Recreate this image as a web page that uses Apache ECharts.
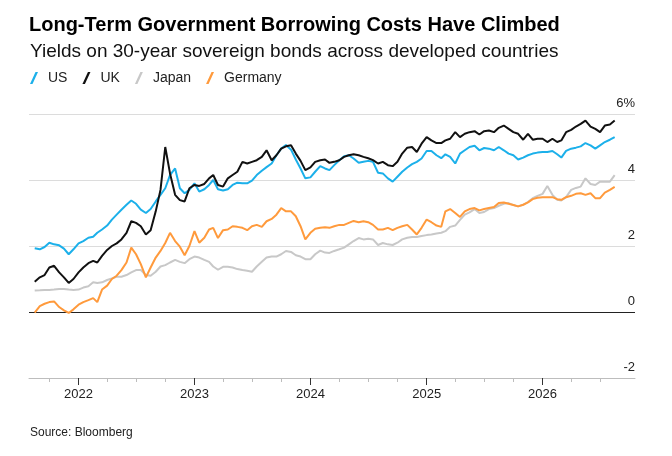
<!DOCTYPE html>
<html>
<head>
<meta charset="utf-8">
<script src="https://cdn.jsdelivr.net/npm/echarts@6/dist/echarts.min.js"></script>
<style>
  html, body { margin: 0; padding: 0; background: #fff; }
  #chart { width: 672px; height: 456px; }
</style>
</head>
<body>
<div id="chart"></div>
<script>
// 数据：每半月一个点，2021-08-16 到 2026-08-16
const seriesNames = ['US', 'UK', 'Japan', 'Germany'];
const seriesColors = ['#1cb0ea', '#111111', '#c8c8c8', '#ff9a3c'];

const us = [
  1.93, 1.90, 1.97, 2.10, 2.05, 2.02, 1.92, 1.75, 1.90, 2.08,
  2.15, 2.25, 2.28, 2.40, 2.50, 2.62, 2.80, 2.95, 3.10, 3.25,
  3.38, 3.28, 3.10, 3.00, 3.12, 3.35, 3.55, 3.75, 4.15, 4.35,
  3.75, 3.60, 3.70, 3.90, 3.65, 3.72, 3.85, 4.00, 3.72, 3.68,
  3.72, 3.85, 3.92, 3.90, 3.90, 3.98, 4.15, 4.28, 4.39, 4.50,
  4.75, 4.95, 5.06, 4.92, 4.62, 4.35, 4.05, 4.08, 4.25, 4.42,
  4.35, 4.30, 4.45, 4.60, 4.72, 4.75, 4.65, 4.52, 4.55, 4.58,
  4.55, 4.22, 4.20, 4.05, 3.95, 4.10, 4.25, 4.38, 4.48, 4.55,
  4.65, 4.88, 4.88, 4.75, 4.66, 4.78, 4.70, 4.50, 4.80, 4.90,
  5.00, 5.04, 4.90, 4.97, 4.95, 4.90, 5.00, 4.90, 4.80, 4.75,
  4.62, 4.68, 4.75, 4.80, 4.83, 4.85, 4.85, 4.88, 4.78, 4.68,
  4.88, 4.95, 4.98, 5.02, 5.12, 5.05, 4.95, 5.05, 5.15, 5.22,
  5.30
];

const uk = [
  0.92, 1.05, 1.12, 1.35, 1.40, 1.20, 1.05, 0.88, 1.00, 1.20,
  1.35, 1.48, 1.55, 1.50, 1.70, 1.88, 2.00, 2.08, 2.20, 2.40,
  2.75, 2.70, 2.60, 2.35, 2.48, 3.05, 3.70, 5.00, 4.20, 3.55,
  3.39, 3.35, 3.75, 3.85, 3.82, 3.88, 4.05, 4.15, 3.85, 3.80,
  4.05, 4.15, 4.25, 4.55, 4.50, 4.55, 4.60, 4.70, 4.90, 4.60,
  4.75, 4.95, 5.02, 5.05, 4.80, 4.58, 4.30, 4.38, 4.55, 4.60,
  4.62, 4.52, 4.55, 4.60, 4.70, 4.75, 4.78, 4.75, 4.70, 4.66,
  4.60, 4.50, 4.55, 4.45, 4.42, 4.55, 4.80, 4.98, 5.00, 4.85,
  5.10, 5.30, 5.20, 5.12, 5.12, 5.20, 5.25, 5.45, 5.30, 5.40,
  5.45, 5.48, 5.38, 5.48, 5.50, 5.45, 5.58, 5.65, 5.55, 5.45,
  5.40, 5.22, 5.40, 5.22, 5.25, 5.25, 5.15, 5.25, 5.15, 5.20,
  5.45, 5.52, 5.62, 5.70, 5.80, 5.62, 5.55, 5.45, 5.65, 5.68,
  5.80
];

const japan = [
  0.65, 0.66, 0.67, 0.67, 0.68, 0.70, 0.70, 0.68, 0.67, 0.68,
  0.74, 0.78, 0.90, 0.88, 0.90, 0.97, 1.02, 1.07, 1.07, 1.12,
  1.20, 1.27, 1.27, 1.12, 1.10, 1.22, 1.38, 1.42, 1.50, 1.58,
  1.52, 1.48, 1.60, 1.68, 1.65, 1.58, 1.52, 1.38, 1.28, 1.37,
  1.37, 1.35, 1.30, 1.27, 1.25, 1.22, 1.38, 1.52, 1.65, 1.68,
  1.68, 1.75, 1.85, 1.82, 1.72, 1.68, 1.60, 1.60, 1.75, 1.86,
  1.80, 1.79, 1.85, 1.90, 1.95, 2.05, 2.15, 2.24, 2.20, 2.22,
  2.20, 2.03, 2.09, 2.05, 2.03, 2.10, 2.20, 2.25, 2.27, 2.27,
  2.30, 2.33, 2.35, 2.38, 2.40, 2.45, 2.58, 2.62, 2.79, 2.95,
  3.02, 3.12, 3.00, 3.03, 3.12, 3.15, 3.22, 3.28, 3.30, 3.24,
  3.20, 3.25, 3.33, 3.45, 3.52, 3.58, 3.82, 3.55, 3.40, 3.38,
  3.48, 3.70, 3.76, 3.80, 4.05, 3.88, 3.85, 3.95, 3.95, 3.95,
  4.15
];

const germany = [
  -0.02, 0.18, 0.25, 0.30, 0.32, 0.15, 0.05, -0.03, 0.08, 0.22,
  0.30, 0.36, 0.42, 0.30, 0.68, 0.80, 1.00, 1.10, 1.27, 1.50,
  1.95, 1.75, 1.45, 1.05, 1.35, 1.65, 1.85, 2.09, 2.40, 2.15,
  1.98, 1.72, 2.00, 2.45, 2.10, 2.25, 2.50, 2.55, 2.24, 2.48,
  2.50, 2.60, 2.58, 2.55, 2.48, 2.60, 2.64, 2.58, 2.75, 2.82,
  2.95, 3.15, 3.05, 3.05, 2.90, 2.60, 2.20, 2.40, 2.52, 2.55,
  2.57, 2.55, 2.60, 2.64, 2.64, 2.70, 2.76, 2.72, 2.75, 2.72,
  2.64, 2.50, 2.50, 2.55, 2.48, 2.55, 2.60, 2.64, 2.50, 2.35,
  2.55, 2.80, 2.72, 2.62, 2.58, 3.05, 3.12, 3.00, 2.88, 3.05,
  3.12, 3.15, 3.08, 3.12, 3.15, 3.18, 3.30, 3.32, 3.28, 3.24,
  3.20, 3.25, 3.32, 3.42, 3.46, 3.48, 3.48, 3.48, 3.42, 3.40,
  3.48, 3.52, 3.58, 3.60, 3.55, 3.60, 3.45, 3.45, 3.62, 3.70,
  3.79
];

const yearTicks = ['2022-01-01', '2023-01-01', '2024-01-01', '2025-01-01', '2026-01-01'];
const quarterTicks = [
  '2021-10-01',
  '2022-04-01', '2022-07-01', '2022-10-01',
  '2023-04-01', '2023-07-01', '2023-10-01',
  '2024-04-01', '2024-07-01', '2024-10-01',
  '2025-04-01', '2025-07-01', '2025-10-01',
  '2026-04-01', '2026-07-01'
];

// 日期：8月16日起，1日/16日交替
const dates = [];
for (let i = 0; i < us.length; i++) {
  const monthOffset = Math.floor((i + 1) / 2);
  const day = i % 2 === 0 ? 16 : 1;
  dates.push(new Date(2021, 7 + monthOffset, day).getTime());
}

const toTime = s => new Date(s + 'T00:00:00').getTime();
const FONT = 'Liberation Sans, Arial, Helvetica, sans-serif';
const xMin = toTime('2021-07-29');
const xMax = toTime('2026-10-19');

const chart = echarts.init(document.getElementById('chart'));

const values = [us, uk, japan, germany];
const series = seriesNames.map((name, k) => ({
  name: name,
  type: 'line',
  showSymbol: false,
  symbol: 'none',
  color: seriesColors[k],
  lineStyle: { width: 2, color: seriesColors[k] },
  data: dates.map((d, i) => [d, values[k][i]])
}));

const option = {
  animation: false,
  textStyle: { fontFamily: FONT },
  title: [
    {
      text: 'Long-Term Government Borrowing Costs Have Climbed',
      left: 29, top: 15, padding: 0,
      textStyle: { fontSize: 20, fontWeight: 'bold', color: '#000', fontFamily: FONT }
    },
    {
      text: 'Yields on 30-year sovereign bonds across developed countries',
      left: 30, top: 42, padding: 0,
      textStyle: { fontSize: 19, fontWeight: 'normal', color: '#111', fontFamily: FONT }
    },
    {
      text: 'Source: Bloomberg',
      left: 30, top: 427, padding: 0,
      textStyle: { fontSize: 12, fontWeight: 'normal', color: '#222', fontFamily: FONT }
    }
  ],
  legend: {
    left: 30, top: 71, padding: 0,
    itemWidth: 8, itemHeight: 12, itemGap: 15,
    textStyle: { fontSize: 14, color: '#222', fontFamily: FONT, padding: [0, 0, 0, 5] },
    data: seriesNames.map(n => ({ name: n, icon: 'path://M0,12 L5.5,0 L8,0 L2.5,12 Z' }))
  },
  grid: { left: 29, right: 37, top: 114, bottom: 78, containLabel: false },
  xAxis: [
    {
      type: 'value', min: xMin, max: xMax, scale: true, position: 'bottom',
      axisLine: { show: true, onZero: false, lineStyle: { color: '#bdbdbd', width: 1 } },
      axisTick: { show: true, length: 4, lineStyle: { color: '#bdbdbd' }, customValues: quarterTicks.map(toTime) },
      axisLabel: { show: false },
      splitLine: { show: false }
    },
    {
      type: 'value', min: xMin, max: xMax, scale: true, position: 'bottom',
      axisLine: { show: false, onZero: false },
      axisTick: { show: true, length: 7, lineStyle: { color: '#333' }, customValues: yearTicks.map(toTime) },
      axisLabel: {
        show: true, margin: 10, fontSize: 13, color: '#222', fontFamily: FONT,
        customValues: yearTicks.map(toTime),
        formatter: v => String(new Date(v).getFullYear())
      },
      splitLine: { show: false }
    }
  ],
  yAxis: {
    type: 'value', min: -2, max: 6, interval: 2, position: 'right',
    axisLine: { show: false },
    axisTick: { show: false },
    axisLabel: {
      inside: true, margin: 0, verticalAlign: 'bottom', padding: [0, 0, 4, 0],
      fontSize: 13, color: '#222', fontFamily: FONT,
      formatter: v => (v === 6 ? '6%' : String(v))
    },
    splitLine: { show: true, lineStyle: { color: ['#bdbdbd', '#222', '#dcdcdc', '#dcdcdc', '#dcdcdc'], width: 1 } }
  },
  series: series
};

chart.setOption(option);
</script>
</body>
</html>
